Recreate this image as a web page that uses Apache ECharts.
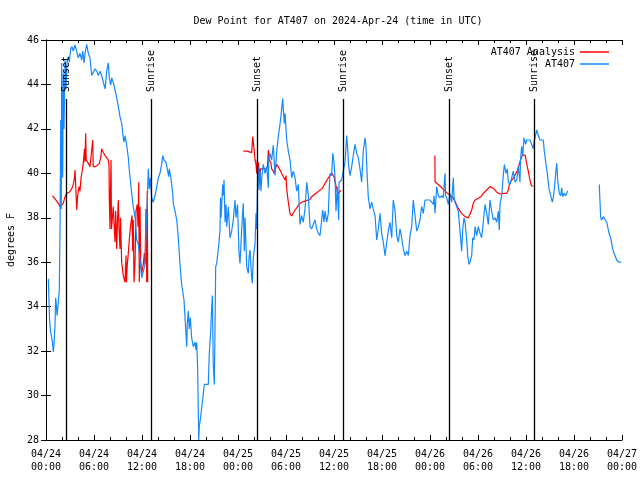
<!DOCTYPE html>
<html><head><meta charset="utf-8">
<script src="https://cdn.jsdelivr.net/npm/echarts@6/dist/echarts.min.js"></script>
<style>html,body{margin:0;padding:0;background:#fff}#c{width:640px;height:480px}</style>
</head><body><div id="c"></div>
<script>
const titleText = "Dew Point for AT407 on 2024-Apr-24 (time in UTC)";
const yAxisName = "degrees F";
const tickLabels = ["04/24\n00:00","04/24\n06:00","04/24\n12:00","04/24\n18:00","04/25\n00:00","04/25\n06:00","04/25\n12:00","04/25\n18:00","04/26\n00:00","04/26\n06:00","04/26\n12:00","04/26\n18:00","04/27\n00:00"];
const eventHours = [2.54, 13.16, 26.41, 37.16, 50.41, 61.04];
const eventNames = ["Sunset","Sunrise","Sunset","Sunrise","Sunset","Sunrise"];
const seriesNames = ["AT407 Analysis", "AT407"];

// hours since 04/24 00:00 UTC
const blueHours = [
0.29,0.34,0.44,0.56,0.81,0.91,1.0,1.13,1.21,1.31,1.38,1.54,1.66,1.75,1.84,1.91,1.96,2.04,2.09,2.16,2.25,2.38,2.5,2.63,2.79,2.91,3.09,3.25,3.41,3.63,3.84,4.04,4.25,4.46,4.59,4.75,4.88,5.09,5.29,5.5,5.71,5.91,6.13,6.34,6.54,6.75,6.96,7.16,7.38,7.59,7.79,7.91,8.09,8.21,8.41,8.63,8.84,9.04,9.25,9.46,9.66,9.75,9.88,10.09,10.29,10.41,10.59,10.71,10.91,11.13,11.34,11.54,11.75,11.96,12.16,12.38,12.5,12.66,12.79,12.91,13.04,13.21,13.41,13.63,13.84,14.04,14.25,14.46,14.59,14.75,15.0,15.16,15.34,15.41,15.59,15.84,15.91,16.13,16.34,16.54,16.75,16.96,17.25,17.38,17.59,17.66,17.79,17.91,18.04,18.21,18.41,18.63,18.75,18.84,18.96,19.09,19.16,19.34,19.46,19.59,19.71,19.79,20.29,20.41,20.59,20.66,20.79,20.91,21.04,21.13,21.21,21.34,21.54,21.63,21.75,21.81,21.88,22.09,22.19,22.25,22.38,22.5,22.59,22.79,23.0,23.21,23.41,23.63,23.75,23.94,24.13,24.25,24.46,24.59,24.66,24.79,24.88,25.09,25.29,25.38,25.5,25.71,25.79,25.91,26.13,26.25,26.34,26.44,26.54,26.63,26.75,26.88,26.96,27.16,27.38,27.59,27.79,27.85,28.0,28.21,28.41,28.63,28.84,29.04,29.25,29.46,29.59,29.66,29.79,29.88,30.09,30.29,30.5,30.71,30.91,31.13,31.34,31.54,31.75,31.96,32.16,32.38,32.59,32.79,33.0,33.21,33.41,33.63,33.84,34.04,34.25,34.46,34.59,34.75,34.88,35.09,35.29,35.38,35.5,35.71,35.84,36.0,36.13,36.25,36.41,36.59,36.63,36.75,36.96,37.16,37.38,37.59,37.69,37.84,38.0,38.21,38.41,38.63,38.84,39.04,39.25,39.46,39.66,39.88,40.0,40.16,40.29,40.5,40.71,40.91,41.13,41.34,41.54,41.75,41.96,42.16,42.38,42.59,42.79,43.0,43.21,43.41,43.63,43.84,44.04,44.25,44.46,44.66,44.88,45.09,45.29,45.5,45.71,45.91,46.13,46.34,46.54,46.75,46.96,47.16,47.38,47.63,48.0,48.25,48.41,48.5,48.63,48.84,49.04,49.25,49.46,49.66,49.88,49.94,50.09,50.29,50.5,50.71,50.91,51.0,51.13,51.34,51.54,51.75,51.96,52.09,52.25,52.38,52.59,52.71,52.88,53.0,53.21,53.34,53.5,53.63,53.84,54.04,54.25,54.46,54.66,54.88,55.09,55.29,55.5,55.71,55.91,56.13,56.34,56.54,56.66,56.75,56.96,57.16,57.29,57.5,57.66,57.79,58.0,58.21,58.41,58.63,58.84,59.04,59.25,59.31,59.46,59.59,59.75,59.96,60.09,60.5,60.71,60.91,61.0,61.13,61.34,61.54,61.75,62.16,62.29,62.46,62.66,62.88,63.09,63.29,63.41,63.54,63.71,63.84,63.96,64.16,64.34,64.46,64.59,64.75,64.96,65.21,
67.0,
69.16,69.25,69.34,69.46,69.66,69.88,70.09,70.21,70.38,70.59,70.71,70.84,71.0,71.13,71.34,71.63,71.88];
const blueDew = [
35.25,34.6,33.5,32.9,32.4,31.96,32.3,33.2,34.4,34.0,33.6,34.2,34.7,37.4,42.4,38.4,44.97,41.0,39.8,44.5,42.0,45.1,43.8,45.0,45.25,45.0,45.6,45.7,45.5,45.78,45.78,45.2,45.4,45.1,45.5,44.97,45.4,45.8,45.4,45.2,44.4,44.35,44.7,44.6,44.4,44.6,44.4,44.1,43.8,44.6,44.97,44.3,43.97,44.3,44.1,43.75,43.4,43.0,42.55,42.26,41.6,41.4,41.7,41.27,40.7,40.15,39.55,39.1,38.5,38.05,37.0,36.8,36.1,35.3,35.3,35.9,37.3,38.8,40.2,39.3,39.8,38.9,38.7,39.0,39.4,39.8,40.0,40.4,40.8,40.6,40.5,40.2,39.85,40.2,39.85,39.1,38.65,38.3,37.9,37.1,35.9,35.0,34.3,33.5,32.2,33.2,33.8,33.0,33.5,32.6,32.2,32.4,32.05,32.4,31.15,28.0,28.6,29.05,29.44,29.84,30.25,30.5,30.5,31.9,32.9,33.6,34.5,31.4,30.5,33.1,35.8,35.95,36.0,36.9,37.45,38.9,38.0,39.5,39.0,39.7,37.8,38.6,37.6,38.5,37.1,37.4,37.9,38.8,38.0,38.6,36.4,35.95,37.45,38.3,38.65,36.5,38.0,35.8,35.5,36.2,36.55,35.3,35.05,36.2,36.8,38.2,37.5,39.5,40.3,39.25,40.1,39.2,39.8,40.4,40.0,40.3,39.35,40.7,40.9,40.6,41.27,39.9,41.0,41.65,42.2,42.9,43.37,42.9,42.25,42.7,41.5,41.0,40.6,39.8,40.1,39.8,39.2,39.5,37.7,38.1,37.8,38.4,39.6,39.0,37.6,37.5,37.7,37.9,37.5,37.3,37.2,37.9,38.35,37.8,38.3,37.8,38.2,39.1,40.0,39.9,40.9,40.5,39.8,38.3,39.4,37.9,39.6,39.55,39.7,40.1,40.5,41.7,41.2,40.3,39.9,40.3,40.8,41.3,40.9,40.7,40.2,39.6,41.0,41.6,41.2,39.8,38.9,38.4,38.7,38.4,38.1,37.0,37.5,38.2,37.3,36.9,36.3,36.9,37.4,37.8,37.1,38.8,38.3,37.2,36.9,37.5,37.1,36.6,36.3,36.5,36.3,37.2,37.6,38.8,38.1,37.4,37.6,37.9,38.5,38.2,38.8,38.8,38.8,38.8,38.6,39.0,38.2,39.4,39.0,38.9,39.0,38.9,40.0,39.0,38.9,38.6,39.1,38.7,39.8,38.95,38.7,38.5,38.3,38.3,36.5,37.5,38.0,37.8,37.0,36.3,35.9,36.0,36.3,37.1,37.0,37.6,37.2,37.6,37.3,37.1,37.8,38.6,38.2,37.7,38.8,38.3,37.9,38.0,37.8,38.3,37.45,38.6,39.0,39.9,40.4,40.0,40.2,39.6,39.5,39.8,40.1,39.6,39.7,40.3,39.6,40.6,41.2,40.8,41.6,41.3,41.5,41.5,41.3,41.1,41.4,41.6,41.95,41.7,41.5,41.5,41.0,40.5,40.0,39.3,39.0,38.7,38.9,39.3,40.0,40.45,39.7,39.1,39.0,39.35,38.95,39.1,39.0,39.2,
null,
39.5,38.7,38.0,37.9,38.05,38.05,37.8,37.6,37.3,37.1,36.85,36.6,36.4,36.3,36.1,36.0,36.0];

const redHours = [
0.79,1.13,1.54,1.75,1.96,2.16,2.38,2.59,2.91,3.21,3.41,3.56,3.63,3.75,3.84,3.96,4.13,4.25,4.38,4.54,4.66,4.81,4.88,4.96,5.03,5.29,5.5,5.71,5.84,5.9,6.21,6.41,6.66,6.84,6.96,7.16,7.38,7.59,7.79,7.88,7.91,8.0,8.04,8.13,8.19,8.41,8.5,8.63,8.71,8.84,8.94,9.04,9.13,9.25,9.31,9.46,9.66,9.88,10.0,10.06,10.16,10.29,10.41,10.59,10.75,10.84,10.91,11.0,11.13,11.19,11.25,11.41,11.5,11.59,11.66,11.75,11.84,11.96,12.16,12.29,12.38,12.5,12.59,12.66,12.71,12.79,
20.0,
24.66,25.13,25.71,25.84,26.0,26.06,26.13,26.25,26.34,26.41,26.5,26.54,26.75,26.81,27.16,27.59,27.69,27.79,27.91,28.09,28.21,28.41,28.5,28.63,28.84,29.04,29.25,29.46,29.66,29.88,30.0,30.09,30.29,30.5,30.71,30.91,31.13,31.34,31.54,31.75,32.16,32.59,33.0,33.21,33.41,33.63,33.84,34.04,34.25,34.46,34.66,34.88,35.09,35.29,35.5,35.71,35.84,36.0,36.21,36.41,36.59,36.75,36.88,
42.0,
48.61,48.63,48.84,49.25,49.66,50.09,50.5,50.91,51.13,51.34,51.54,51.75,51.96,52.16,52.38,52.59,52.79,53.0,53.21,53.41,53.63,53.84,54.04,54.25,54.46,54.66,54.88,55.09,55.29,55.5,55.71,55.91,56.13,56.34,56.54,56.75,56.96,57.16,57.38,57.59,57.79,57.91,58.09,58.34,58.54,58.75,58.96,59.13,59.25,59.38,59.54,59.66,59.79,59.91,60.0,60.16,60.29,60.41,60.59,60.71,60.91];
const redDew = [
39.0,38.85,38.65,38.5,38.45,38.65,38.95,39.1,39.15,39.3,39.5,39.8,40.15,40.15,38.35,39.0,39.4,39.2,39.8,40.15,40.45,41.1,40.5,41.8,40.6,40.45,40.3,40.24,41.5,40.3,40.3,40.35,40.45,40.7,41.1,40.95,40.8,40.7,40.6,40.3,38.9,37.5,38.95,40.6,37.5,38.5,37.8,36.9,38.3,36.6,37.9,38.8,37.5,36.6,38.0,36.0,35.4,35.1,36.3,35.1,35.9,36.4,37.0,37.7,38.1,36.5,37.9,35.1,36.0,37.2,38.3,38.6,37.6,39.6,35.1,38.5,36.1,35.5,35.9,36.4,35.9,38.4,35.1,39.2,35.1,35.1,
null,
41.0,41.0,40.93,41.65,41.6,40.9,40.6,40.4,40.0,40.6,39.8,40.5,39.8,40.2,40.2,40.2,40.3,41.05,40.6,40.5,40.2,40.1,40.0,40.15,40.4,40.3,40.15,40.0,39.85,39.7,39.9,39.3,38.7,38.2,38.08,38.15,38.35,38.45,38.55,38.65,38.73,38.77,38.82,38.95,39.0,39.07,39.12,39.18,39.24,39.3,39.4,39.55,39.62,39.8,39.85,40.0,40.0,39.85,39.5,39.2,39.1,39.2,39.22,
null,
40.8,39.62,39.55,39.43,39.28,39.13,39.03,38.88,38.8,38.58,38.42,38.3,38.2,38.12,38.05,37.99,37.99,38.05,38.35,38.65,38.8,38.82,38.88,38.95,38.98,39.1,39.17,39.25,39.32,39.4,39.4,39.33,39.25,39.15,39.07,39.07,39.07,39.1,39.1,39.1,39.25,39.47,39.62,39.7,39.85,40.0,40.15,40.37,40.52,40.67,40.82,40.87,40.9,40.82,40.6,40.3,40.1,39.85,39.55,39.43,39.43];

const FONT = "DejaVu Sans Mono";
const chart = echarts.init(document.getElementById('c'), null, {renderer: 'canvas'});

const xBase = {
  type: 'value', min: 0, max: 72, interval: 6,
  axisLine: {show: true, lineStyle: {color: '#000', width: 1}},
  axisTick: {show: true, inside: true, length: 5, lineStyle: {color: '#000'}},
  minorTick: {show: true, splitNumber: 3, length: 3, lineStyle: {color: '#000'}},
  splitLine: {show: false}
};
const yBase = {
  type: 'value', min: 28, max: 46, interval: 2,
  axisLine: {show: true, lineStyle: {color: '#000', width: 1}},
  axisTick: {show: true, inside: true, length: 5, lineStyle: {color: '#000'}},
  splitLine: {show: false}
};

chart.setOption({
  animation: false,
  backgroundColor: '#fff',
  title: {
    text: titleText, left: 333, top: 11, textAlign: 'center',
    textStyle: {fontFamily: FONT, fontSize: 10, fontWeight: 'normal', color: '#000'}
  },
  legend: {
    data: seriesNames, right: 26, top: 42, orient: 'vertical', align: 'right',
    icon: 'rect', itemWidth: 29, itemHeight: 1.5, itemGap: 2,
    textStyle: {fontFamily: FONT, fontSize: 10, color: '#000'}
  },
  grid: {left: 46, right: 18, top: 40, bottom: 40, containLabel: false, outerBoundsMode: 'none'},
  xAxis: [
    Object.assign({}, xBase, {
      position: 'bottom',
      axisLabel: {
        show: true, margin: 8, color: '#000', fontFamily: FONT, fontSize: 10, lineHeight: 13,
        formatter: v => tickLabels[Math.round(v / 6)]
      }
    }),
    Object.assign({}, xBase, {position: 'top', axisLabel: {show: false}})
  ],
  yAxis: [
    Object.assign({}, yBase, {
      position: 'left', name: yAxisName, nameLocation: 'middle', nameRotate: 90, nameGap: 30,
      nameTextStyle: {fontFamily: FONT, fontSize: 10, color: '#000'},
      axisLabel: {show: true, margin: 7, color: '#000', fontFamily: FONT, fontSize: 10}
    }),
    Object.assign({}, yBase, {position: 'right', axisLabel: {show: false}})
  ],
  series: [
    {
      name: seriesNames[0], type: 'line', xAxisIndex: 0, yAxisIndex: 0,
      data: redHours.map((h, i) => [h, redDew[i]]),
      showSymbol: false, symbol: 'none', connectNulls: false,
      lineStyle: {color: '#ff0000', width: 1.2}, itemStyle: {color: '#ff0000'}, z: 3
    },
    {
      name: seriesNames[1], type: 'line', xAxisIndex: 0, yAxisIndex: 0,
      data: blueHours.map((h, i) => [h, blueDew[i]]),
      showSymbol: false, symbol: 'none', connectNulls: false,
      lineStyle: {color: '#1489ff', width: 1.2}, itemStyle: {color: '#1489ff'}, z: 4
    },
    {
      name: 'events', type: 'custom', xAxisIndex: 0, yAxisIndex: 0, silent: true, z: 5,
      data: eventHours.map((h, i) => [h, 28, i]),
      renderItem: function (params, api) {
        const x = Math.round(api.coord([api.value(0), 28])[0]) + 0.5;
        const cs = params.coordSys;
        const top = cs.y + cs.height * 0.1475;
        const bottom = cs.y + cs.height;
        return {
          type: 'group',
          children: [
            {type: 'line', shape: {x1: x, y1: top, x2: x, y2: bottom},
             style: {stroke: '#000', lineWidth: 1.3}},
            {type: 'text', x: x, y: top - 7, rotation: Math.PI / 2,
             style: {text: eventNames[api.value(2)], fontFamily: FONT, fontSize: 10,
                     fill: '#000', align: 'left', verticalAlign: 'middle'}}
          ]
        };
      }
    }
  ]
});
</script>
</body></html>
